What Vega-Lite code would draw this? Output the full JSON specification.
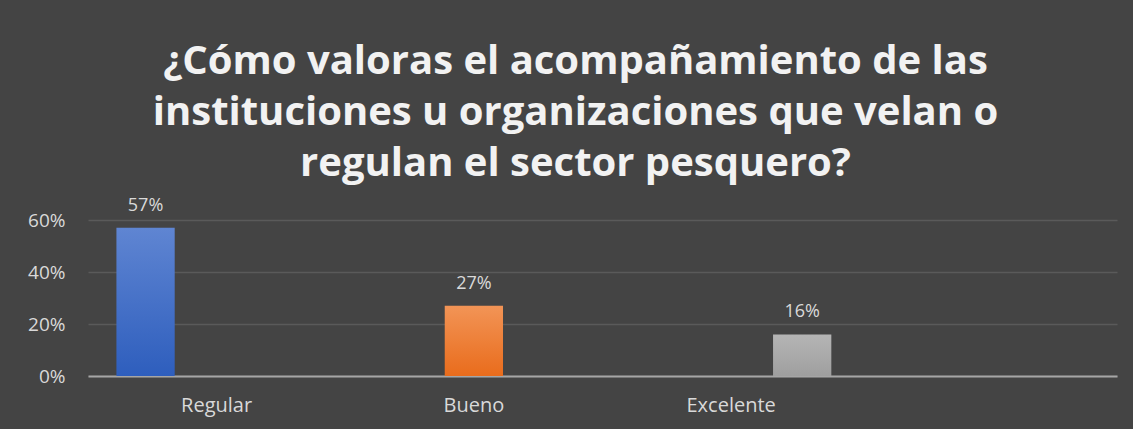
{
  "$schema": "https://vega.github.io/schema/vega-lite/v6.json",
  "autosize": {"type": "none"},
  "width": 1029,
  "height": 156,
  "padding": {"left": 88, "top": 220, "right": 16, "bottom": 53},
  "background": "#444444",
  "view": {"stroke": null},
  "title": {
    "text": ["¿Cómo valoras el acompañamiento de las", "instituciones u organizaciones que velan o", "regulan el sector pesquero?"],
    "font": "Open Sans",
    "fontSize": 40,
    "fontWeight": "bold",
    "color": "#f2f2f2",
    "lineHeight": 51,
    "anchor": "middle",
    "frame": "group",
    "dx": -27,
    "offset": 13
  },
  "data": {
    "values": [
      {"categoria": "Regular", "serie": "Regular", "valor": 0.57},
      {"categoria": "Bueno", "serie": "Bueno", "valor": 0.27},
      {"categoria": "Excelente", "serie": "Excelente", "valor": 0.16}
    ]
  },
  "encoding": {
    "x": {
      "field": "categoria",
      "type": "nominal",
      "sort": null,
      "scale": {"domain": ["Regular", "Bueno", "Excelente", " "], "paddingInner": 0, "paddingOuter": 0},
      "axis": {
        "title": null,
        "labelAngle": 0,
        "ticks": false,
        "tickSize": 0,
        "domain": true,
        "domainColor": "#a6a6a6",
        "domainWidth": 2,
        "labelFont": "Open Sans",
        "labelFontSize": 20,
        "labelColor": "#d9d9d9",
        "labelPadding": 19,
        "grid": false
      }
    },
    "xOffset": {
      "field": "serie",
      "type": "nominal",
      "scale": {"domain": ["Regular", "Bueno", "Excelente"], "paddingInner": 0.18, "paddingOuter": 0.4}
    },
    "y": {
      "field": "valor",
      "type": "quantitative",
      "scale": {"domain": [0, 0.6], "nice": false},
      "axis": {
        "title": null,
        "format": ".0%",
        "values": [0, 0.2, 0.4, 0.6],
        "domain": false,
        "ticks": false,
        "tickSize": 0,
        "labelFont": "Open Sans",
        "labelFontSize": 19,
        "labelColor": "#d9d9d9",
        "labelPadding": 23,
        "grid": true,
        "gridColor": "#ffffff",
        "gridOpacity": 0.12,
        "gridWidth": 1.5
      }
    }
  },
  "layer": [
    {
      "transform": [{"filter": "datum.serie === 'Regular'"}],
      "mark": {"type": "bar", "color": {"gradient": "linear", "x1": 0, "y1": 0, "x2": 0, "y2": 1, "stops": [{"offset": 0, "color": "#5f85d2"}, {"offset": 1, "color": "#2e5ebd"}]}}
    },
    {
      "transform": [{"filter": "datum.serie === 'Bueno'"}],
      "mark": {"type": "bar", "color": {"gradient": "linear", "x1": 0, "y1": 0, "x2": 0, "y2": 1, "stops": [{"offset": 0, "color": "#f29456"}, {"offset": 1, "color": "#e96c1c"}]}}
    },
    {
      "transform": [{"filter": "datum.serie === 'Excelente'"}],
      "mark": {"type": "bar", "color": {"gradient": "linear", "x1": 0, "y1": 0, "x2": 0, "y2": 1, "stops": [{"offset": 0, "color": "#b5b5b5"}, {"offset": 1, "color": "#9f9f9f"}]}}
    },
    {
      "mark": {"type": "text", "font": "Open Sans", "fontSize": 18, "color": "#d9d9d9", "baseline": "alphabetic", "dy": -17},
      "encoding": {
        "text": {"field": "valor", "type": "quantitative", "format": ".0%"}
      }
    }
  ]
}
